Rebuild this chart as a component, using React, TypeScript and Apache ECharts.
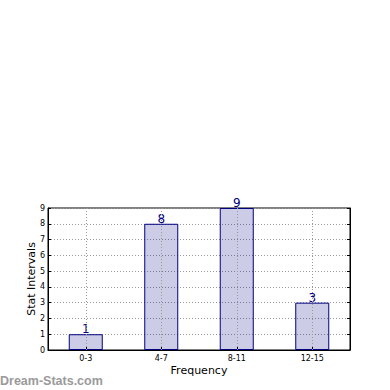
import React, { useEffect, useRef } from "react";
import * as echarts from "echarts";

const categories = ["0-3", "4-7", "8-11", "12-15"];
const values = [1, 8, 9, 3];
const yTicks = [0, 1, 2, 3, 4, 5, 6, 7, 8, 9];

export default function App() {
  const ref = useRef<HTMLDivElement>(null);
  useEffect(() => {
    if (!ref.current) return;
    const chart = echarts.init(ref.current, null, { renderer: "svg" });
    const font = "DejaVu Sans";
    chart.setOption({
      animation: false,
      backgroundColor: "#ffffff",
      textStyle: { fontFamily: font },
      grid: { left: 48, right: 40, top: 208, bottom: 40, show: true, borderColor: "#000", borderWidth: 1, backgroundColor: "transparent" },
      xAxis: [
        {
          type: "category",
          data: categories,
          name: "Frequency",
          nameLocation: "middle",
          nameGap: 15,
          nameMoveOverlap: false,
          nameTextStyle: { fontSize: 11, color: "#000", fontFamily: font },
          axisLine: { show: true, lineStyle: { color: "#000" } },
          axisTick: { show: true, inside: true, alignWithLabel: true, length: 3, lineStyle: { color: "#000" } },
          axisLabel: { fontSize: 8, color: "#000", margin: 4, fontFamily: font },
          splitLine: { show: false },
        },
      ],
      yAxis: [
        {
          type: "value",
          min: yTicks[0],
          max: yTicks[yTicks.length - 1],
          interval: 1,
          name: "Stat Intervals",
          nameLocation: "middle",
          nameGap: 11,
          nameMoveOverlap: false,
          nameTextStyle: { fontSize: 11, color: "#000", fontFamily: font },
          axisLine: { show: true, lineStyle: { color: "#000" } },
          axisTick: { show: true, inside: true, length: 3, lineStyle: { color: "#000" } },
          axisLabel: { fontSize: 8, color: "#000", margin: 3, fontFamily: font },
          splitLine: { show: true, lineStyle: { type: [1, 2], color: "#999", width: 1 } },
        },
        {
          type: "value",
          position: "right",
          min: yTicks[0],
          max: yTicks[yTicks.length - 1],
          interval: 1,
          axisLine: { show: true, lineStyle: { color: "#000" } },
          axisTick: { show: true, inside: true, length: 3, lineStyle: { color: "#000" } },
          axisLabel: { show: false },
          splitLine: { show: false },
        },
      ],
      series: [
        {
          type: "bar",
          data: values,
          barWidth: 34,
          itemStyle: { color: "rgba(0,0,128,0.2)", borderColor: "#000080", borderWidth: 1 },
          label: { show: true, position: "top", distance: -1, fontSize: 12, color: "#000080", fontFamily: font },
          markLine: {
            silent: true,
            symbol: "none",
            label: { show: false },
            lineStyle: { type: [1, 2], color: "#999", width: 1 },
            data: categories.map((c) => ({ xAxis: c })),
          },
        },
      ],
      graphic: [
        {
          type: "text",
          left: 0,
          top: 374,
          style: { text: "Dream-Stats.com", fontSize: 12.5, fontWeight: "bold", fill: "#9a9a9a", fontFamily: "Liberation Sans" },
        },
      ],
    });
    return () => chart.dispose();
  }, []);
  return <div ref={ref} style={{ position: "fixed", left: 0, top: 0, width: 390, height: 390 }} />;
}
